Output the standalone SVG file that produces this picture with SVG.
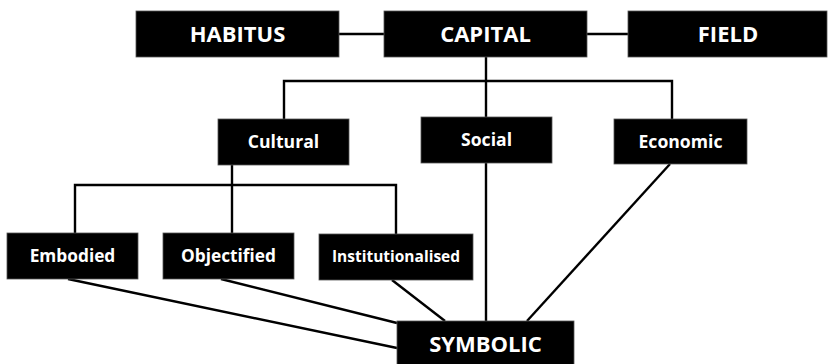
<svg xmlns="http://www.w3.org/2000/svg" width="828" height="364" viewBox="0 0 828 364">
<style>
.box{fill:#000;stroke:#555;stroke-width:0.8}
.t{fill:#fff;font-family:"Open Sans","Liberation Sans",sans-serif;font-weight:700;text-anchor:middle}
.big{font-size:22px}
.mid{font-size:17.6px}
.sm{font-size:17.3px}
.xs{font-size:15.5px}
.c{stroke:#000;stroke-width:2.4;fill:none}
</style>
<rect width="828" height="364" fill="#fff"/>
<g id="connectors">
<line class="c" x1="339" y1="34" x2="384" y2="34"/>
<line class="c" x1="587" y1="34" x2="628" y2="34"/>
<polyline class="c" points="486,57 486,81"/>
<polyline class="c" points="284,119 284,81 672,81 672,119"/>
<line class="c" x1="486" y1="81" x2="486" y2="117"/>
<line class="c" x1="232" y1="165" x2="232" y2="233"/>
<polyline class="c" points="75,233 75,185 396,185 396,234"/>
<line class="c" x1="486" y1="163" x2="486" y2="321"/>
<line class="c" x1="670" y1="164" x2="527" y2="321"/>
<line class="c" x1="68" y1="279" x2="397" y2="348"/>
<line class="c" x1="221" y1="279" x2="397" y2="323"/>
<line class="c" x1="392" y1="280" x2="445" y2="321"/>
</g>
<g id="habitus"><rect class="box" x="136" y="11" width="203" height="46"/><text class="t big" x="237.5" y="42">HABITUS</text></g>
<g id="capital"><rect class="box" x="384" y="11" width="203" height="46"/><text class="t big" x="485.5" y="42">CAPITAL</text></g>
<g id="field"><rect class="box" x="628" y="11" width="199" height="46"/><text class="t big" x="728" y="42">FIELD</text></g>
<g id="cultural"><rect class="box" x="218" y="119" width="131" height="46"/><text class="t mid" x="283.5" y="148">Cultural</text></g>
<g id="social"><rect class="box" x="421" y="117" width="131" height="46"/><text class="t mid" x="486.5" y="146">Social</text></g>
<g id="economic"><rect class="box" x="614" y="119" width="133" height="45"/><text class="t mid" x="680.5" y="148">Economic</text></g>
<g id="embodied"><rect class="box" x="7" y="233" width="131" height="46"/><text class="t sm" x="72.5" y="262">Embodied</text></g>
<g id="objectified"><rect class="box" x="163" y="233" width="131" height="46"/><text class="t sm" x="228.5" y="262">Objectified</text></g>
<g id="institutionalised"><rect class="box" x="319" y="234" width="154" height="46"/><text class="t xs" x="396" y="262">Institutionalised</text></g>
<g id="symbolic"><rect class="box" x="397" y="321" width="177" height="50"/><text class="t big" x="485.5" y="352">SYMBOLIC</text></g>
</svg>
